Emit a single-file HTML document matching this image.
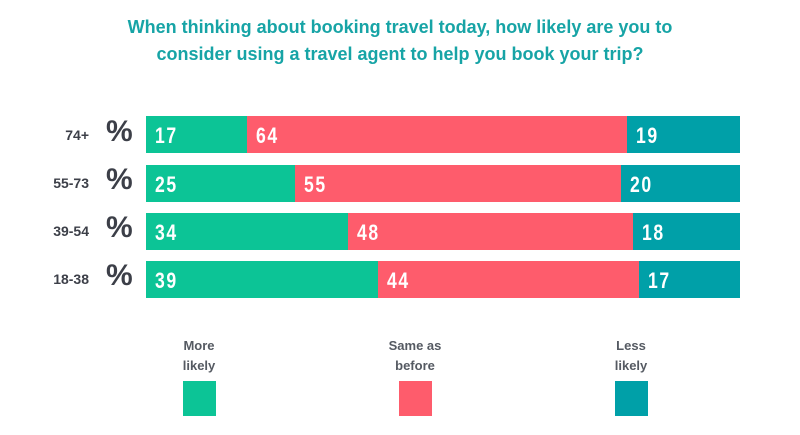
<!DOCTYPE html>
<html><head><style>
body{margin:0;width:800px;height:435px;background:#fff;position:relative;font-family:"Liberation Sans",sans-serif;overflow:hidden}
.t{position:absolute;left:0;width:800px;text-align:center;color:#17a4a6;font-size:18px;font-weight:bold}
.row{position:absolute;left:146px;width:594px;height:37px;display:flex}
.row div{height:100%;position:relative}
.row span{position:absolute;left:9px;top:7px;color:#fff;font-size:22px;font-weight:bold;letter-spacing:2px;transform:scaleX(0.8);transform-origin:left}
.g{background:#0cc496}.r{background:#fe5c6c}.b{background:#00a0a8}
.age{position:absolute;right:711px;font-size:14px;font-weight:bold;color:#3c3f48}
.pc{position:absolute;left:106px;font-size:30px;font-weight:bold;color:#3c3f48}
.lg{position:absolute;width:100px;text-align:center;font-size:13px;font-weight:bold;color:#555a62;line-height:20px;top:336px}
.sq{position:absolute;width:33px;height:35px;top:381px}
</style></head><body>
<div class="t" style="top:17px">When thinking about booking travel today, how likely are you to</div>
<div class="t" style="top:44px">consider using a travel agent to help you book your trip?</div>

<div class="age" style="top:127px">74+</div><div class="pc" style="top:115px">%</div>
<div class="row" style="top:116px"><div class="g" style="width:17%"><span>17</span></div><div class="r" style="width:64%"><span>64</span></div><div class="b" style="width:19%"><span>19</span></div></div>
<div class="age" style="top:175px">55-73</div><div class="pc" style="top:163px">%</div>
<div class="row" style="top:165px"><div class="g" style="width:25%"><span>25</span></div><div class="r" style="width:55%"><span>55</span></div><div class="b" style="width:20%"><span>20</span></div></div>
<div class="age" style="top:223px">39-54</div><div class="pc" style="top:211px">%</div>
<div class="row" style="top:213px"><div class="g" style="width:34%"><span>34</span></div><div class="r" style="width:48%"><span>48</span></div><div class="b" style="width:18%"><span>18</span></div></div>
<div class="age" style="top:271px">18-38</div><div class="pc" style="top:259px">%</div>
<div class="row" style="top:261px"><div class="g" style="width:39%"><span>39</span></div><div class="r" style="width:44%"><span>44</span></div><div class="b" style="width:17%"><span>17</span></div></div>

<div class="lg" style="left:149px">More<br>likely</div>
<div class="lg" style="left:365px">Same as<br>before</div>
<div class="lg" style="left:581px">Less<br>likely</div>
<div class="sq g" style="left:183px"></div>
<div class="sq r" style="left:399px"></div>
<div class="sq b" style="left:615px"></div>
</body></html>
